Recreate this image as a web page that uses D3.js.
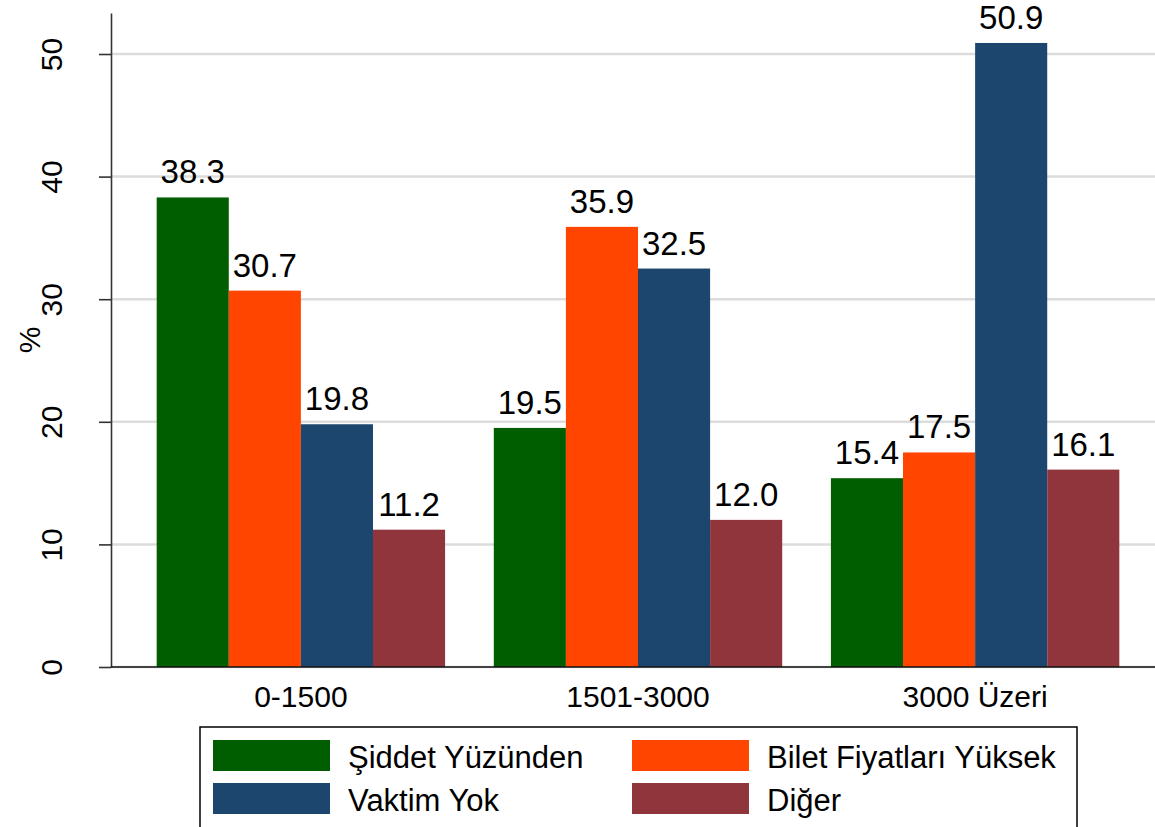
<!DOCTYPE html>
<html>
<head>
<meta charset="utf-8">
<script src="https://cdn.jsdelivr.net/npm/d3@7"></script>
<style>
  body { margin: 0; background: #fff; }
  svg { display: block; font-family: "Liberation Sans", Arial, sans-serif; }
</style>
</head>
<body>
<svg></svg>
<script>
// data
const categories = ["0-1500", "1501-3000", "3000 Üzeri"];
const keys = ["Şiddet Yüzünden", "Bilet Fiyatları Yüksek", "Vaktim Yok", "Diğer"];
const siddet = [38.3, 19.5, 15.4];
const bilet = [30.7, 35.9, 17.5];
const vaktim = [19.8, 32.5, 50.9];
const diger = [11.2, 12.0, 16.1];
const yTicks = [0, 10, 20, 30, 40, 50];
const colors = ["#005e00", "#ff4500", "#1c466e", "#90353b"];

const svgWidth = 1155;
const svgHeight = 827;
const svg = d3.select("svg")
    .attr("width", svgWidth)
    .attr("height", svgHeight);

const series = [siddet, bilet, vaktim, diger];
const data = categories.map((c, i) => {
    const row = {cat: c};
    keys.forEach((k, j) => row[k] = series[j][i]);
    return row;
});

// plot area edges (right edge runs past the window)
const plot = {left: 111, right: 1165, top: 13, bottom: 667};

const x0 = d3.scaleBand()
    .domain(categories)
    .range([plot.left, plot.right])
    .paddingInner(0.1445)
    .paddingOuter(0.1355);

const x1 = d3.scaleBand()
    .domain(keys)
    .range([0, x0.bandwidth()]);

const y = d3.scaleLinear()
    .domain([0, (plot.bottom - plot.top) / 12.26])
    .range([plot.bottom, plot.top]);

const z = d3.scaleOrdinal().domain(keys).range(colors);

// gridlines
svg.append("g")
    .selectAll("line")
    .data(yTicks)
    .enter().append("line")
    .attr("x1", plot.left)
    .attr("x2", svgWidth)
    .attr("y1", d => y(d))
    .attr("y2", d => y(d))
    .attr("stroke", "#dcdcdc")
    .attr("stroke-width", 2.5);

// bars
const groups = svg.append("g")
    .selectAll("g")
    .data(data)
    .enter().append("g")
    .attr("transform", d => "translate(" + x0(d.cat) + ",0)");

groups.selectAll("rect")
    .data(d => keys.map(key => ({key: key, value: d[key]})))
    .enter().append("rect")
    .attr("x", d => x1(d.key))
    .attr("y", d => y(d.value))
    .attr("width", x1.bandwidth())
    .attr("height", d => y(0) - y(d.value))
    .attr("fill", d => z(d.key));

// value labels
groups.selectAll("text")
    .data(d => keys.map(key => ({key: key, value: d[key]})))
    .enter().append("text")
    .attr("x", d => x1(d.key) + x1.bandwidth() / 2)
    .attr("y", d => y(d.value) - 14)
    .attr("text-anchor", "middle")
    .attr("font-size", 33)
    .attr("fill", "#000")
    .text(d => d.value.toFixed(1));

// y axis
const yAxis = svg.append("g")
    .attr("transform", "translate(" + plot.left + ",0)")
    .call(d3.axisLeft(y).tickValues(yTicks).tickSize(12).tickSizeOuter(0));
yAxis.select(".domain").attr("stroke", "#333").attr("stroke-width", 1.6);
yAxis.selectAll(".tick line").attr("stroke", "#333").attr("stroke-width", 1.6);
yAxis.selectAll(".tick text")
    .attr("font-size", 30)
    .attr("fill", "#000")
    .attr("text-anchor", "middle")
    .attr("dy", 0)
    .attr("x", 0)
    .attr("y", 0)
    .attr("transform", "translate(-49,0) rotate(-90)");

svg.append("text")
    .attr("transform", "translate(40," + (plot.top + plot.bottom) / 2 + ") rotate(-90)")
    .attr("text-anchor", "middle")
    .attr("font-size", 30)
    .text("%");

// x axis
const xAxis = svg.append("g")
    .attr("transform", "translate(0," + plot.bottom + ")")
    .call(d3.axisBottom(x0).tickSize(0).tickPadding(19));
xAxis.select(".domain").attr("d", "M" + plot.left + ",0H" + svgWidth).attr("stroke", "#111").attr("stroke-width", 1.6);
xAxis.selectAll(".tick text")
    .attr("font-size", 30)
    .attr("fill", "#000")
    .attr("dy", "0.71em");

// legend
const legend = svg.append("g");
legend.append("rect")
    .attr("x", 200)
    .attr("y", 727)
    .attr("width", 877)
    .attr("height", 130)
    .attr("fill", "#fff")
    .attr("stroke", "#000")
    .attr("stroke-width", 1.5);

const items = legend.selectAll("g")
    .data(keys)
    .enter().append("g")
    .attr("transform", (d, i) => "translate(" + (i % 2 === 0 ? 213 : 632) + "," + (740 + Math.floor(i / 2) * 43) + ")");

items.append("rect")
    .attr("width", 117)
    .attr("height", 31)
    .attr("fill", z);

items.append("text")
    .attr("x", 135)
    .attr("y", 28)
    .attr("font-size", 31)
    .text(d => d);
</script>
</body>
</html>
